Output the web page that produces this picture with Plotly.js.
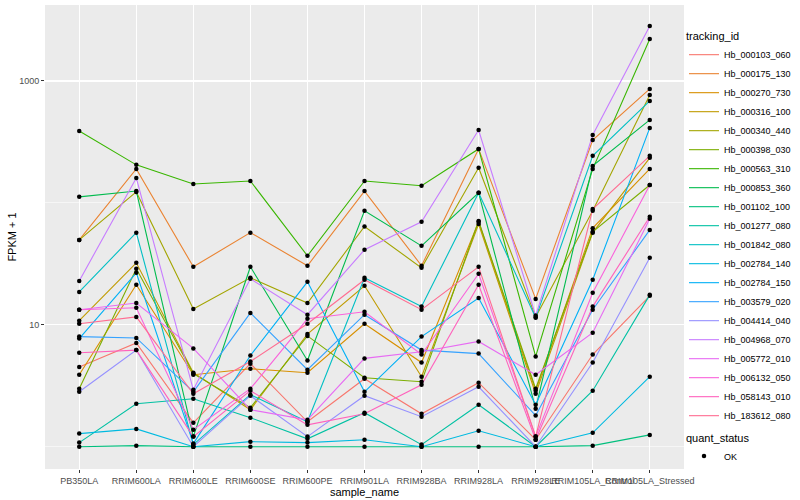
<!DOCTYPE html>
<html><head><meta charset="utf-8">
<script src="https://cdn.plot.ly/plotly-3.0.1.min.js"></script>
<style>html,body{margin:0;padding:0;background:#fff}#chart{width:800px;height:500px}</style>
</head><body><div id="chart"></div>
<script>
// categories (x)
const samples = ["PB350LA","RRIM600LA","RRIM600LE","RRIM600SE","RRIM600PE","RRIM901LA","RRIM928BA","RRIM928LA","RRIM928LE","RRIM105LA_Control","RRIM105LA_Stressed"];

// FPKM + 1 per gene, one value per sample
const Hb_000103_060 = [4.5, 7.1, 1.57, 4.8, 1.6, 3.61, 1.86, 3.35, 1.14, 5.7, 17.3];
const Hb_000175_130 = [49.7, 190, 29.9, 57, 30.5, 125, 30.5, 277, 16.3, 328, 860];
const Hb_000270_730 = [3.89, 21.3, 3.89, 4.36, 4.04, 10.2, 4.9, 70, 2.88, 62, 190];
const Hb_000316_100 = [10.8, 32.2, 4.04, 2.01, 8.4, 20.9, 3.75, 67, 2.72, 57, 234];
const Hb_000340_440 = [49.7, 123, 13.5, 24.3, 15.1, 64, 29.3, 194, 11.6, 86, 768];
const Hb_000398_030 = [2.99, 28.8, 3.97, 2.09, 8.1, 3.68, 3.41, 71, 2.99, 58, 140];
const Hb_000563_310 = [389, 205, 143, 151, 36.8, 151, 138, 277, 5.5, 190, 2208];
const Hb_000853_360 = [112, 125, 1.21, 29.9, 5.1, 86, 44.4, 121, 2.05, 201, 479];
const Hb_001102_100 = [1.0, 1.02, 1.0, 1.0, 1.0, 1.0, 1.0, 1.0, 1.0, 1.02, 1.25];
const Hb_001277_080 = [1.08, 2.25, 2.47, 1.73, 1.16, 1.90, 1.04, 2.21, 1.0, 2.88, 17.6];
const Hb_001842_080 = [18.6, 57, 1.04, 2.67, 1.6, 24.3, 14.1, 121, 11.4, 243, 686];
const Hb_002784_140 = [1.28, 1.40, 1.0, 1.10, 1.08, 1.14, 1.0, 1.35, 1.0, 1.30, 3.75];
const Hb_002784_150 = [7.7, 26.7, 1.06, 5.6, 22.5, 2.82, 8.0, 16.6, 2.21, 23.4, 412];
const Hb_003579_020 = [8.0, 7.8, 2.82, 12.5, 4.28, 12.1, 6.2, 5.8, 1.80, 13.3, 60];
const Hb_004414_040 = [2.82, 6.2, 1.0, 2.62, 1.21, 2.62, 1.76, 3.10, 1.0, 4.9, 35.4];
const Hb_004968_070 = [22.9, 160, 2.93, 23.8, 12.1, 41.2, 70, 396, 11.9, 361, 2825];
const Hb_005772_010 = [13.3, 15.1, 6.4, 2.01, 1.66, 5.3, 6.0, 7.3, 3.89, 8.6, 74];
const Hb_006132_050 = [13.3, 13.8, 1.38, 2.99, 11.2, 12.8, 5.7, 26.2, 1.21, 18.3, 140];
const Hb_058143_010 = [5.9, 6.2, 1.21, 2.88, 1.51, 1.86, 3.22, 21.3, 1.14, 14.1, 77];
const Hb_183612_080 = [10.2, 11.6, 2.72, 5.0, 10.2, 23.4, 13.3, 29.9, 1.21, 89, 243];

const trackingIds = ["Hb_000103_060","Hb_000175_130","Hb_000270_730","Hb_000316_100","Hb_000340_440","Hb_000398_030","Hb_000563_310","Hb_000853_360","Hb_001102_100","Hb_001277_080","Hb_001842_080","Hb_002784_140","Hb_002784_150","Hb_003579_020","Hb_004414_040","Hb_004968_070","Hb_005772_010","Hb_006132_050","Hb_058143_010","Hb_183612_080"];
const seriesValues = [Hb_000103_060,Hb_000175_130,Hb_000270_730,Hb_000316_100,Hb_000340_440,Hb_000398_030,Hb_000563_310,Hb_000853_360,Hb_001102_100,Hb_001277_080,Hb_001842_080,Hb_002784_140,Hb_002784_150,Hb_003579_020,Hb_004414_040,Hb_004968_070,Hb_005772_010,Hb_006132_050,Hb_058143_010,Hb_183612_080];
const colors = ["#F8766D","#EA8331","#D89000","#C09B00","#A3A500","#7CAE00","#39B600","#00BB4E","#00BF7D","#00C1A3","#00BFC4","#00BAE0","#00B0F6","#35A2FF","#9590FF","#C77CFF","#E76BF3","#FA62DB","#FF62BC","#FF6C91"];
const yTickVals = [10, 1000];
const yTickText = ["10", "1000"];
const yMinorVals = [1, 100];
const statusLabel = "OK";

const FONT = "Liberation Sans, Arial, Helvetica, sans-serif";
const traces = trackingIds.map((id, i) => ({
  type: "scatter", mode: "lines", name: id,
  x: samples, y: seriesValues[i],
  line: {color: colors[i], width: 1.1},
  legend: "legend", hoverinfo: "name+y"
}));
const allX = [], allY = [];
seriesValues.forEach(v => v.forEach((val, j) => { allX.push(samples[j]); allY.push(val); }));
traces.push({
  type: "scatter", mode: "markers", name: statusLabel,
  x: allX, y: allY,
  marker: {color: "#000000", size: 4.5, symbol: "circle"},
  legend: "legend2", showlegend: true
});

const layout = {
  width: 800, height: 500,
  margin: {l: 45, r: 116, t: 5, b: 31, autoexpand: false},
  paper_bgcolor: "#FFFFFF", plot_bgcolor: "#EBEBEB",
  font: {family: FONT, size: 9, color: "#000000"},
  showlegend: true,
  xaxis: {
    type: "category", categoryorder: "array", categoryarray: samples,
    range: [-0.6, 10.6], tickangle: 0, automargin: false,
    showgrid: true, gridcolor: "#FFFFFF", gridwidth: 1.1,
    zeroline: false, showline: false,
    ticks: "outside", ticklen: 3, tickcolor: "#333333", tickwidth: 1,
    tickfont: {family: FONT, size: 9, color: "#4D4D4D"},
    title: {text: "sample_name", font: {family: FONT, size: 11, color: "#000000"}, standoff: 2}
  },
  yaxis: {
    type: "log", range: [-0.183, 3.623], automargin: false,
    tickmode: "array", tickvals: yTickVals, ticktext: yTickText,
    showgrid: true, gridcolor: "#FFFFFF", gridwidth: 1.1,
    minor: {tickmode: "array", tickvals: yMinorVals, showgrid: true, gridcolor: "#FFFFFF", gridwidth: 0.55, ticks: ""},
    zeroline: false, showline: false,
    ticks: "outside", ticklen: 3, tickcolor: "#333333", tickwidth: 1,
    tickfont: {family: FONT, size: 9, color: "#4D4D4D"},
    title: {text: "FPKM + 1", font: {family: FONT, size: 11, color: "#000000"}, standoff: 0}
  },
  legend: {
    x: 1.0, xanchor: "left", y: 0.955, yanchor: "top",
    bgcolor: "rgba(0,0,0,0)", itemwidth: 30,
    font: {family: FONT, size: 9, color: "#000000"},
    title: {text: "tracking_id", font: {family: FONT, size: 11, color: "#000000"}},
    tracegroupgap: 0
  },
  legend2: {
    x: 1.0, xanchor: "left", y: 0.09, yanchor: "top",
    bgcolor: "rgba(0,0,0,0)", itemwidth: 30,
    font: {family: FONT, size: 9, color: "#000000"},
    title: {text: "quant_status", font: {family: FONT, size: 11, color: "#000000"}}
  }
};
Plotly.newPlot("chart", traces, layout, {displayModeBar: false, staticPlot: true});
</script></body></html>
